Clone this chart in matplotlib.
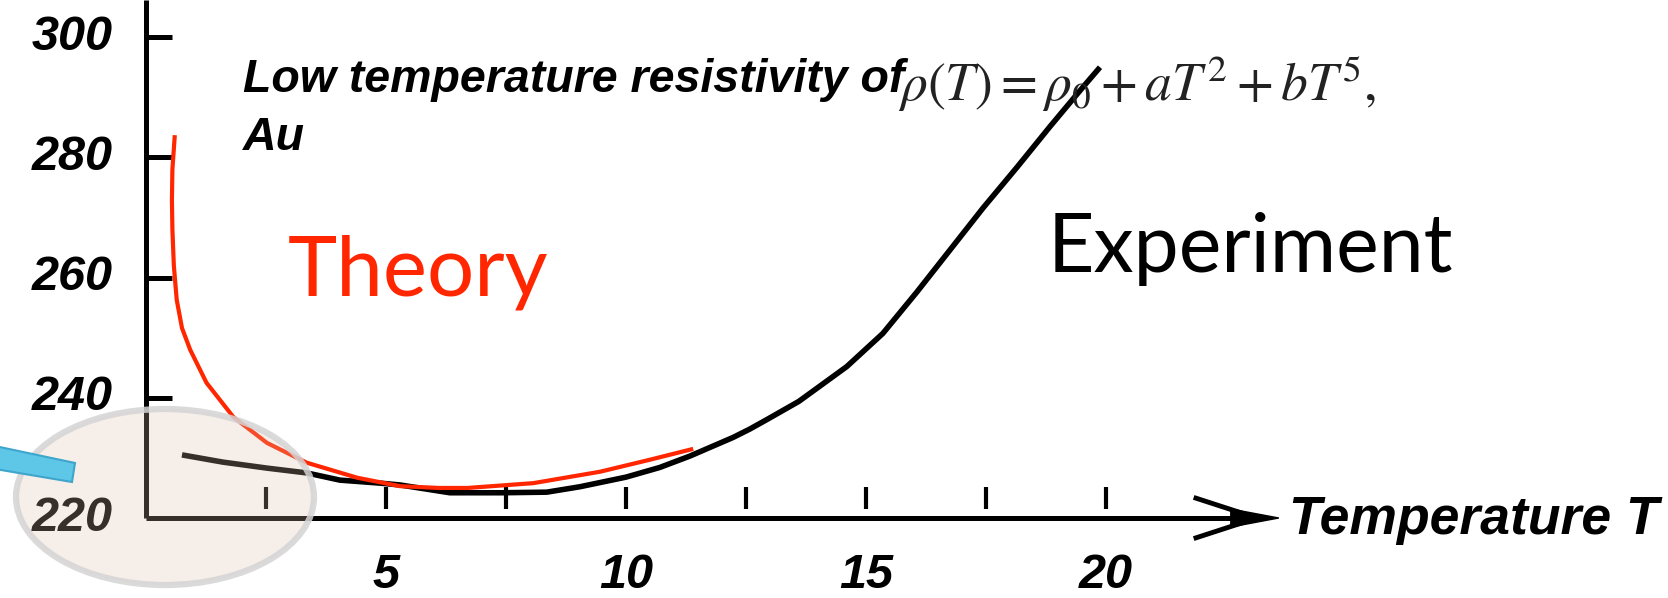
import numpy as np
import matplotlib.pyplot as plt
from matplotlib.patches import Ellipse, Polygon

plt.rcParams['mathtext.fontset'] = 'stix'

# Experiment curve (temperature, resistivity)
exp_T = [0.75, 1.6, 2.52, 3.35, 4.04, 4.88, 5.29, 6.33, 7.4, 8.35, 9.04, 10.0,
         10.7, 11.33, 12.23, 12.58, 12.94, 13.6, 13.98, 14.6, 15.35, 16.06,
         16.75, 17.44, 18.15, 18.83, 19.52, 19.875]
exp_rho = [230.5, 229.3, 228.3, 227.5, 226.3, 225.8, 225.5, 224.2, 224.2, 224.3,
           225.2, 226.8, 228.4, 230.3, 233.4, 234.8, 236.4, 239.4, 241.6, 245.2,
           250.7, 257.6, 264.6, 271.6, 278.4, 285.1, 291.7, 295.0]

# Theory curve
theory_T = [0.6, 0.55, 0.54, 0.55, 0.58, 0.64, 0.75, 0.92, 1.26, 1.82, 2.52,
            3.35, 4.4, 5.29, 6.1, 6.7, 8.07, 9.46, 10.5, 11.4]
theory_rho = [283.7, 278.0, 272.9, 268.0, 262.0, 256.3, 251.6, 248.0, 242.5,
              236.8, 232.5, 229.2, 226.7, 225.3, 225.0, 225.0, 225.8, 227.7,
              229.7, 231.5]

y_ticks = [240, 260, 280, 300]
y_labels = [220, 240, 260, 280, 300]
x_ticks = [2.5, 5, 7.5, 10, 12.5, 15, 17.5, 20]
x_labels = [5, 10, 15, 20]

W, H = 1668, 598
X0PX, PXT = 146, 48.0   # pixel of T=0, pixels per unit T
Y0PX, PXR = 518, 6.01   # pixel of rho=220, pixels per unit rho


def to_data(px, py):
    return (px - X0PX) / PXT, 220 + (Y0PX - py) / PXR


fig = plt.figure(figsize=(W / 100, H / 100), dpi=100)
ax = fig.add_axes([0, 0, 1, 1])
xmin, ymax = to_data(0, 0)
xmax, ymin = to_data(W, H)
ax.set_xlim(xmin, xmax)
ax.set_ylim(ymin, ymax)
ax.axis('off')

bold_it = dict(family='Liberation Sans', fontweight='bold', fontstyle='italic')

# axes drawn by hand
ax.plot([0, 0], [220, ymax], color='k', lw=3.6, solid_capstyle='butt')
ax.plot([0, 23.3], [220, 220], color='k', lw=3.6, solid_capstyle='butt')
for v in y_ticks:
    ax.plot([0, 0.55], [v, v], color='k', lw=3.6, solid_capstyle='butt')
for t in x_ticks:
    ax.plot([t, t], [221.5, 225.2], color='k', lw=3, solid_capstyle='butt')

# arrow head of the x axis
ax.plot([21.875, 22.8], [223.3, 220.9], color='k', lw=3.5)
ax.plot([21.875, 22.8], [216.7, 219.1], color='k', lw=3.5)
ax.add_patch(Polygon([(22.6, 221.5), (23.6, 220), (22.6, 218.5)], closed=True,
                     color='k'))

for v in y_labels:
    ax.text(-0.7, v, str(v), ha='right', va='center', fontsize=35, **bold_it)
for t in x_labels:
    ax.text(t, 210.4, str(t), ha='center', va='center', fontsize=35, **bold_it)

tx, ty = to_data(1289, 520)
ax.text(tx, ty, 'Temperature T', ha='left', va='center', fontsize=38.5, **bold_it)

# curves
ax.plot(exp_T, exp_rho, color='k', lw=4, solid_capstyle='butt',
        solid_joinstyle='round', zorder=3)
ax.plot(theory_T, theory_rho, color='#ff2600', lw=3, solid_capstyle='butt',
        solid_joinstyle='round', zorder=4)

# annotations
tx, ty = to_data(243, 80)
ax.text(tx, ty, 'Low temperature resistivity of', ha='left', va='center',
        fontsize=33.5, **bold_it)
tx, ty = to_data(243, 138)
ax.text(tx, ty, 'Au', ha='left', va='center', fontsize=33.5, **bold_it)

tx, ty = to_data(898, 84)
ax.text(tx, ty, r'$\rho(T) = \rho_0 + aT^2 + bT^5,$', ha='left', va='center',
        fontsize=38.5, color='#222222', zorder=5)

tx, ty = to_data(288, 295)
ax.text(tx, ty, 'Theory', ha='left', va='baseline', fontsize=60,
        family='Lato', color='#ff2600')
tx, ty = to_data(1048, 272)
ax.text(tx, ty, 'Experiment', ha='left', va='baseline', fontsize=58,
        family='Lato', color='k')

# highlight ellipse and pointer
cx, cy = to_data(165, 497)
ax.add_patch(Ellipse((cx, cy), 298 / PXT, 176 / PXR, facecolor='#dcbfa8',
                     alpha=0.25, edgecolor='none', zorder=6))
ax.add_patch(Ellipse((cx, cy), 298 / PXT, 176 / PXR, facecolor='none',
                     edgecolor='#d4d4d4', lw=4.5, alpha=0.85, zorder=6))
bar = [to_data(-5, 446), to_data(75, 463), to_data(72, 482), to_data(-5, 469)]
ax.add_patch(Polygon(bar, closed=True, facecolor='#5ec6e6', edgecolor='#3ea6cc',
                     lw=1.5, zorder=7))

fig.savefig('out.png', dpi=100)
